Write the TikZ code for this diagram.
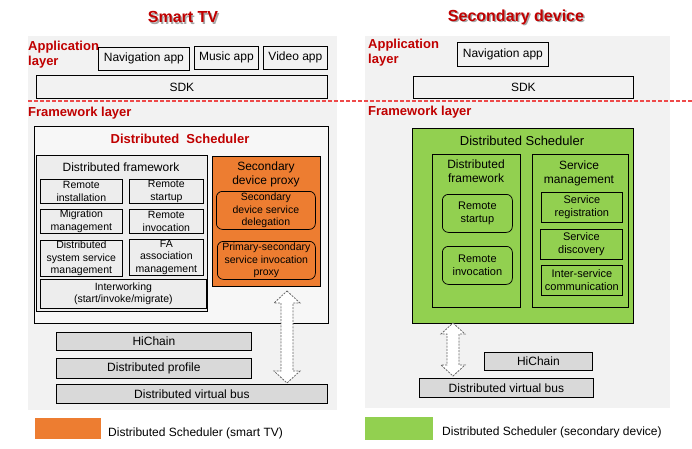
\documentclass[tikz,border=0pt]{standalone}
\usepackage{fontspec}
\setmainfont{Liberation Sans}
\usetikzlibrary{calc}
\definecolor{ttred}{HTML}{C00000}
\definecolor{panel}{HTML}{F2F2F2}
\definecolor{lbox}{HTML}{EDEDED}
\definecolor{dbox}{HTML}{D9D9D9}
\definecolor{orng}{HTML}{ED7D31}
\definecolor{grn}{HTML}{92D050}
\definecolor{dashred}{HTML}{EE4A4A}
\newcommand\fsA{\fontsize{10.5}{12.5}\selectfont}
\newcommand\fsB{\fontsize{12}{14}\selectfont}
\newcommand\fsC{\fontsize{13}{15}\selectfont}
\begin{document}
\begin{tikzpicture}[x=1pt,y=-1pt,
  bx/.style={draw, line width=0.75pt, inner sep=0pt, align=center, anchor=north west, font=\fsB},
  sbx/.style={bx, font=\fsA},
  rbx/.style={bx, rounded corners=6pt, font=\fsA},
  lbl/.style={text=ttred, font=\fsC\bfseries, inner sep=0pt, align=left},
  ttl/.style={text=ttred, font=\fontsize{16}{18}\selectfont\bfseries, inner sep=0pt},
  shd/.style={text=black!35, font=\fontsize{16}{18}\selectfont\bfseries, inner sep=0pt},
  darrow/.style={draw=black!60, dashed, dash pattern=on 2pt off 1.2pt, line width=0.8pt, fill=white}
]
\useasboundingbox (0,0) rectangle (692,448);
\fill[white] (0,0) rectangle (692,448);
% panels
\fill[panel] (28,36) rectangle (337,410);
\fill[panel] (365,36) rectangle (670,408);
% titles
\node[shd] at (184.5,18.5) {Smart TV};
\node[ttl] (tL) at (183,17) {Smart TV};
\node[shd] at (517.5,18.5) {Secondary device};
\node[ttl] (tR) at (516,17) {Secondary device};
% layer labels
\node[lbl, anchor=north west] (alL) at (28,41) {Application\\layer};
\node[lbl, anchor=north west] (alR) at (368,39) {Application\\layer};
\node[lbl, anchor=west] (flL) at (28,113) {Framework layer};
\node[lbl, anchor=west] (flR) at (368,112) {Framework layer};
\draw[draw=dashred, dash pattern=on 3.5pt off 2.5pt, line width=1.1pt] (28,101) -- (692,101);
% application layer left
\node[bx, minimum width=91, minimum height=23] (navL) at (98,47) {Navigation app};
\node[bx, minimum width=64, minimum height=23] (music) at (194,46) {Music app};
\node[bx, minimum width=64, minimum height=23] (video) at (263,46) {Video app};
\node[bx, minimum width=291, minimum height=23] (sdkL) at (36,75) {SDK};
% application layer right
\node[bx, minimum width=91, minimum height=24] (navR) at (457,42) {Navigation app};
\node[bx, minimum width=220, minimum height=22] (sdkR) at (413,76) {SDK};
% left distributed scheduler
\node[bx, fill=white!97!black, minimum width=294, minimum height=197] (dsL) at (34,126) {};
\node[text=ttred, font=\fsC\bfseries, inner sep=0pt] (dsLt) at (180,139) {Distributed\ \ Scheduler};
\node[bx, fill=lbox, minimum width=171, minimum height=156] (dfL) at (36,155) {};
\node[font=\fsB, inner sep=0pt] (dfLt) at (121,167) {Distributed framework};
\node[sbx, fill=lbox, minimum width=82, minimum height=24] (ri) at (40,179) {Remote\\installation};
\node[sbx, fill=lbox, minimum width=74, minimum height=24] (rs) at (129,179) {Remote\\startup};
\node[sbx, fill=lbox, minimum width=82, minimum height=24] (mm) at (40,209) {Migration\\management};
\node[sbx, fill=lbox, minimum width=74, minimum height=24] (rinv) at (129,209) {Remote\\invocation};
\node[sbx, fill=lbox, minimum width=82, minimum height=36] (dssm) at (40,240) {Distributed\\system service\\management};
\node[sbx, fill=lbox, minimum width=74, minimum height=36] (fa) at (129,239) {FA\\association\\management};
\node[sbx, fill=lbox, minimum width=166, minimum height=29] (iw) at (40,279) {Interworking\\(start/invoke/migrate)};
\node[bx, fill=orng, minimum width=108, minimum height=130] (sdp) at (212,156) {};
\node[font=\fsB, align=center, inner sep=0pt] (sdpt) at (266,174) {Secondary\\device proxy};
\node[rbx, minimum width=99, minimum height=38] (sdsd) at (216,191) {Secondary\\device service\\delegation};
\node[rbx, minimum width=98, minimum height=38] (pssip) at (217,241) {Primary-secondary\\service invocation\\proxy};
% left bottom
\node[bx, fill=dbox, minimum width=195, minimum height=18] (hcL) at (56,332) {HiChain};
\node[bx, fill=dbox, minimum width=195, minimum height=20] (prof) at (56,358) {Distributed profile};
\node[bx, fill=dbox, minimum width=271, minimum height=19] (busL) at (56,384) {Distributed virtual bus};
% right distributed scheduler
\node[bx, fill=grn, minimum width=221, minimum height=195] (dsR) at (412,128) {};
\node[font=\fontsize{13}{15}\selectfont, inner sep=0pt] (dsRt) at (522,141) {Distributed Scheduler};
\node[bx, fill=grn, minimum width=88, minimum height=153] (dfR) at (432,154) {};
\node[font=\fsB, align=center, inner sep=0pt] (dfRt) at (476,171.5) {Distributed\\framework};
\node[rbx, font=\fontsize{11}{13}\selectfont, minimum width=70, minimum height=38] (rsR) at (442,194) {Remote\\startup};
\node[rbx, font=\fontsize{11}{13}\selectfont, minimum width=70, minimum height=38] (riR) at (442,246) {Remote\\invocation};
\node[bx, fill=grn, minimum width=96, minimum height=153] (smR) at (532,154) {};
\node[font=\fsB, align=center, inner sep=0pt] (smRt) at (579,173) {Service\\management};
\node[sbx, font=\fontsize{11}{13}\selectfont, minimum width=81, minimum height=30] (sreg) at (541,192) {Service\\registration};
\node[sbx, font=\fontsize{11}{13}\selectfont, minimum width=82, minimum height=30] (sdisc) at (540,229) {Service\\discovery};
\node[sbx, font=\fontsize{11}{13}\selectfont, minimum width=81, minimum height=30] (isc) at (541,265) {Inter-service\\communication};
% right bottom
\node[bx, fill=dbox, minimum width=108, minimum height=18] (hcR) at (484,352) {HiChain};
\node[bx, fill=dbox, minimum width=174, minimum height=19] (busR) at (419,378) {Distributed virtual bus};
% double arrows
\coordinate (aLt) at (287,291);
\coordinate (aLb) at (287,383);
\draw[darrow] (aLt) -- ($(aLt)+(13,12)$) -- ($(aLt)+(6,12)$) -- ($(aLb)+(6,-12)$) -- ($(aLb)+(13,-12)$) -- (aLb)
  -- ($(aLb)+(-13,-12)$) -- ($(aLb)+(-6,-12)$) -- ($(aLt)+(-6,12)$) -- ($(aLt)+(-13,12)$) -- cycle;
\coordinate (aRt) at (453,323);
\coordinate (aRb) at (453,376);
\draw[darrow] (aRt) -- ($(aRt)+(12,11)$) -- ($(aRt)+(6,11)$) -- ($(aRb)+(6,-11)$) -- ($(aRb)+(12,-11)$) -- (aRb)
  -- ($(aRb)+(-12,-11)$) -- ($(aRb)+(-6,-11)$) -- ($(aRt)+(-6,11)$) -- ($(aRt)+(-12,11)$) -- cycle;
% legends
\node[fill=orng, minimum width=66, minimum height=21, inner sep=0pt, anchor=north west] (lgL) at (35,418) {};
\node[font=\fsB, anchor=west, inner sep=0pt] (lgLt) at (108,433) {Distributed Scheduler (smart TV)};
\node[fill=grn, minimum width=68, minimum height=23, inner sep=0pt, anchor=north west] (lgR) at (365,417) {};
\node[font=\fsB, anchor=west, inner sep=0pt] (lgRt) at (442,432) {Distributed Scheduler (secondary device)};
\end{tikzpicture}
\end{document}
